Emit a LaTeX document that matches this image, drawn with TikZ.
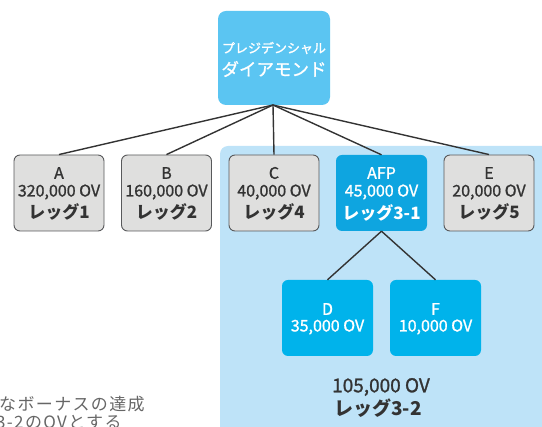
\documentclass[tikz,border=0pt]{standalone}
\usepackage{fontspec}
\setmainfont{Noto Sans CJK JP}
\newfontfamily\medfont[FakeBold=1.2]{Noto Sans CJK JP}
\newfontfamily\jpwide[LetterSpace=8]{Noto Sans CJK JP}
\definecolor{topblue}{HTML}{5BC5F2}
\definecolor{bgblue}{HTML}{BEE3F8}
\definecolor{afpblue}{HTML}{0EA5E0}
\definecolor{subblue}{HTML}{00B3EB}
\definecolor{grayfill}{HTML}{DFDFDE}
\definecolor{grayline}{HTML}{58595B}
\definecolor{txtdark}{HTML}{333333}
\definecolor{txtnote}{HTML}{666666}
\tikzset{
  graybox/.style={draw=grayline, line width=0.9pt, fill=grayfill, rounded corners=6pt,
    minimum width=90pt, minimum height=76pt, inner sep=0pt},
  bluebox/.style={fill=subblue, rounded corners=6pt,
    minimum width=91pt, minimum height=76pt, inner sep=0pt},
  conn/.style={draw=txtdark, line width=1.4pt},
  lbl/.style={inner sep=0pt, text=txtdark, font=\fontsize{16}{16}\selectfont\medfont},
  lblb/.style={inner sep=0pt, text=txtdark, font=\fontsize{17}{17}\selectfont\bfseries},
  wlbl/.style={inner sep=0pt, text=white, font=\fontsize{16}{16}\selectfont\medfont},
  wlblb/.style={inner sep=0pt, text=white, font=\fontsize{17}{17}\selectfont\bfseries},
  note/.style={inner sep=0pt, anchor=west, text=txtnote, font=\fontsize{17}{17}\selectfont\jpwide},
}
\begin{document}
\begin{tikzpicture}[x=1pt,y=-1pt]
\useasboundingbox (0,0) rectangle (542,427);
\clip (0,0) rectangle (542,427);
% background panel
\fill[bgblue, rounded corners=8pt] (220,146) rectangle (560,450);
% top node
\node[fill=topblue, rounded corners=8pt, minimum width=112pt, minimum height=94pt, inner sep=0pt] (top) at (274,58) {};
\node[inner sep=0pt, text=white, font=\fontsize{13}{13}\selectfont\medfont] (topt1) at (274,48) {プレジデンシャル};
\node[inner sep=0pt, text=white, font=\fontsize{17.5}{17.5}\selectfont\medfont] (topt2) at (274,69) {ダイアモンド};
% first row
\node[graybox] (A) at (59,193) {};
\node[graybox] (B) at (166.5,193) {};
\node[graybox] (C) at (274,193) {};
\node[bluebox, fill=afpblue] (AFP) at (381.5,193) {};
\node[graybox] (E) at (489,193) {};
% second row
\node[bluebox] (D) at (327.5,318) {};
\node[bluebox] (F) at (435.5,318) {};
% connectors
\coordinate (hub) at (273,105);
\foreach \n in {A,B,C,AFP,E}{\draw[conn] (hub) -- (\n.north);}
\draw[conn] (AFP.south) -- (D.north);
\draw[conn] (AFP.south) -- (F.north);
% labels
\node[lbl] (A1) at (59,173) {A};
\node[lbl] (A2) at (59,192) {320,000 OV};
\node[lblb] (A3) at (59,212) {レッグ1};
\node[lbl] (B1) at (166.5,173) {B};
\node[lbl] (B2) at (166.5,192) {160,000 OV};
\node[lblb] (B3) at (166.5,212) {レッグ2};
\node[lbl] (C1) at (274,173) {C};
\node[lbl] (C2) at (274,192) {40,000 OV};
\node[lblb] (C3) at (274,212) {レッグ4};
\node[wlbl] (AFP1) at (381.5,173) {AFP};
\node[wlbl] (AFP2) at (381.5,192) {45,000 OV};
\node[wlblb] (AFP3) at (381.5,213) {レッグ3-1};
\node[lbl] (E1) at (489,173) {E};
\node[lbl] (E2) at (489,192) {20,000 OV};
\node[lblb] (E3) at (489,212) {レッグ5};
\node[wlbl] (D1) at (327.5,309) {D};
\node[wlbl] (D2) at (327.5,327) {35,000 OV};
\node[wlbl] (F1) at (435.5,309) {F};
\node[wlbl] (F2) at (435.5,327) {10,000 OV};
\node[inner sep=0pt, text=txtdark, font=\fontsize{19}{19}\selectfont\medfont] (S1) at (381,387) {105,000 OV};
\node[inner sep=0pt, text=txtdark, font=\fontsize{19}{19}\selectfont\bfseries] (S2) at (378,408) {レッグ3-2};
% note text (cut off at the picture's edge, as in the reference)
\node[note] (N1) at (-1,404) {なボーナスの達成};
\node[note] (N2) at (-4,422) {3-2のOVとする};
\end{tikzpicture}
\end{document}
